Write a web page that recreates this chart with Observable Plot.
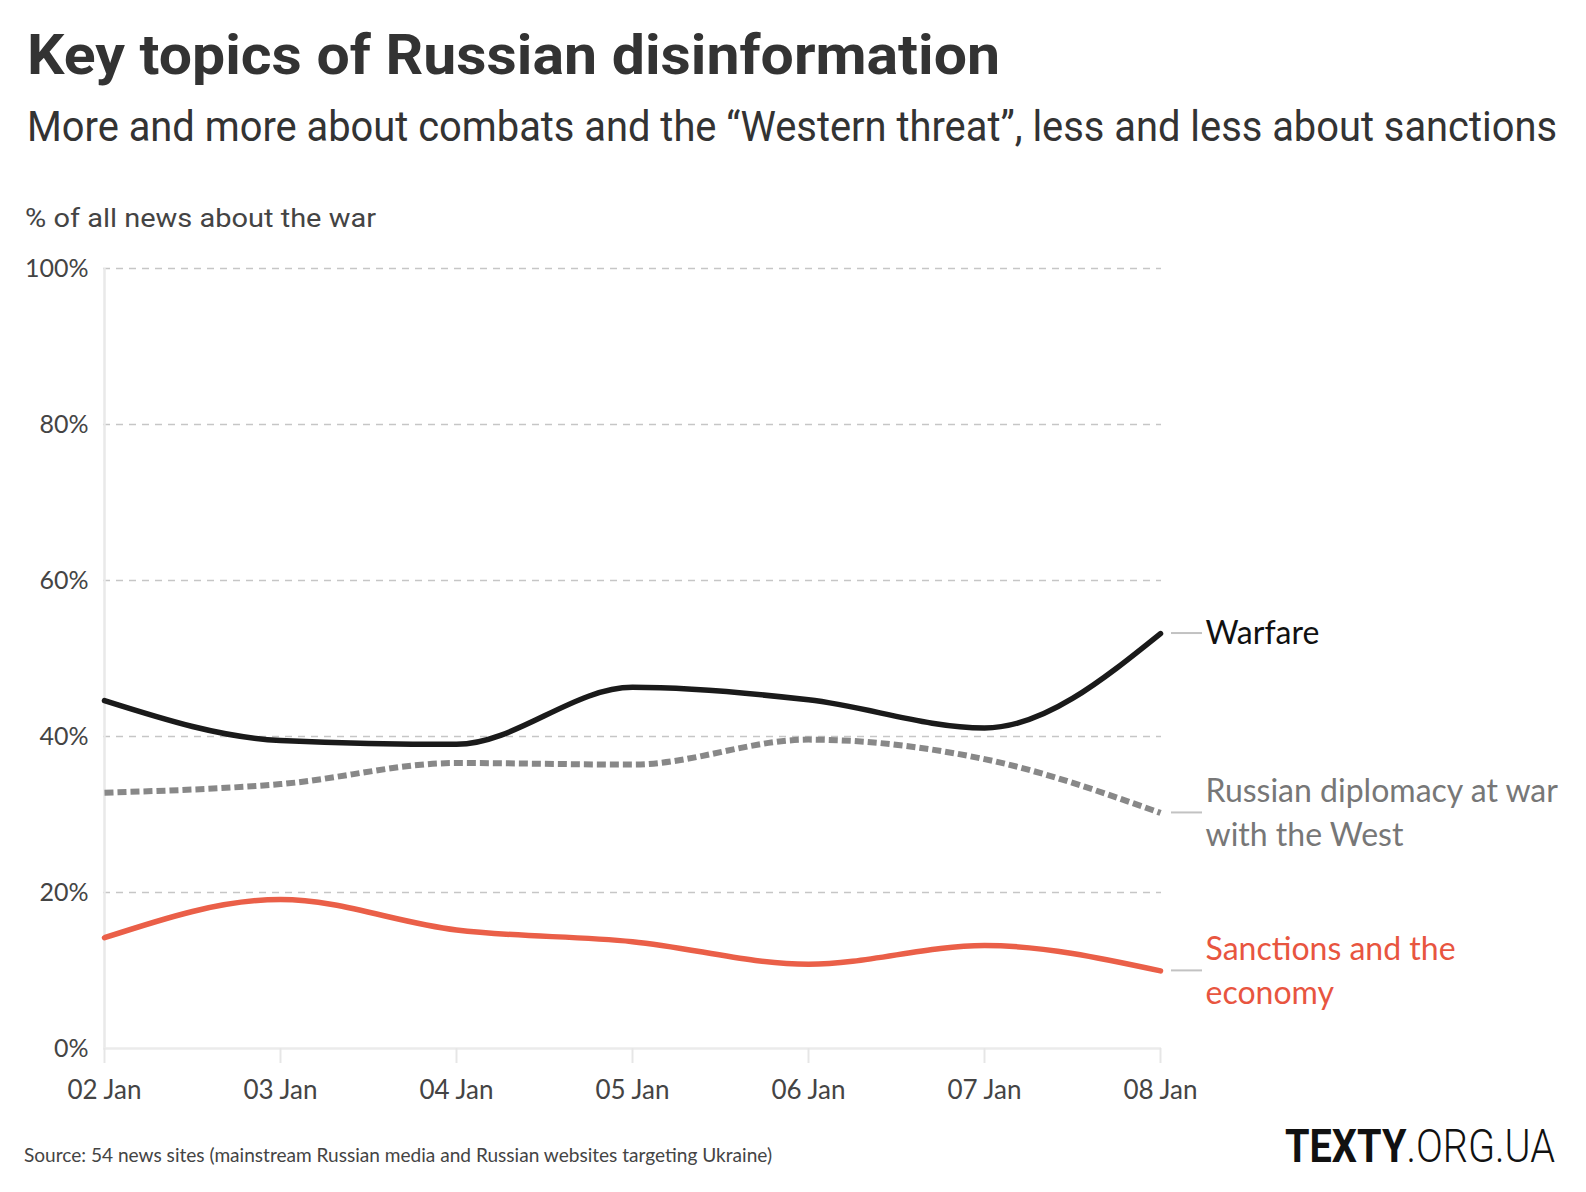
<!DOCTYPE html>
<html>
<head>
<meta charset="utf-8">
<script src="https://cdn.jsdelivr.net/npm/d3@7"></script>
<script src="https://cdn.jsdelivr.net/npm/@observablehq/plot@0.6"></script>
<style>
  html, body { margin: 0; padding: 0; background: #fff; }
  #root { position: relative; width: 1586px; height: 1192px; overflow: hidden; background: #fff; }
  .abs { position: absolute; white-space: nowrap; line-height: 1; transform-origin: 0 0; z-index: 2; }
  #title { font-family: Roboto, sans-serif; font-weight: 700; font-size: 56px; color: #333; }
  #subtitle { font-family: Roboto, sans-serif; font-weight: 400; font-size: 42px; color: #333; }
  #ylabel { font-family: Roboto, sans-serif; font-weight: 400; font-size: 26px; color: #444; }
  #source { font-family: Lato, sans-serif; font-size: 20px; color: #444; }
  #logo { font-family: Roboto, sans-serif; font-size: 46px; color: #111; }
  #logo b { font-weight: 700; }
  #logo span.l { font-weight: 300; }
  #chart { position: absolute; left: 0; top: 180px; z-index: 1; }
</style>
</head>
<body>
<div id="root">
  <div id="title" class="abs">Key topics of Russian disinformation</div>
  <div id="subtitle" class="abs">More and more about combats and the “Western threat”, less and less about sanctions</div>
  <div id="ylabel" class="abs">% of all news about the war</div>
  <div id="chart"></div>
  <div id="source" class="abs">Source: 54 news sites (mainstream Russian media and Russian websites targeting Ukraine)</div>
  <div id="logo" class="abs"><b>TEXTY</b><span class="l">.ORG.UA</span></div>
</div>
<script>
// ---- data ----
const categories = ["02 Jan", "03 Jan", "04 Jan", "05 Jan", "06 Jan", "07 Jan", "08 Jan"];
const warfare   = [44.6, 39.5, 39.0, 46.3, 44.7, 41.1, 53.2];
const diplomacy = [32.8, 33.9, 36.6, 36.4, 39.6, 37.1, 30.2];
const sanctions = [14.2, 19.1, 15.2, 13.7, 10.8, 13.2, 9.95];
const seriesNames = ["Warfare", "Russian diplomacy at war\nwith the West", "Sanctions and the\neconomy"];
const seriesColors = ["#1a1a1a", "#888888", "#ea5f48"];
const labelColors = ["#111111", "#777777", "#e8553f"];
const yTicks = [0, 20, 40, 60, 80, 100];

const seriesValues = [warfare, diplomacy, sanctions];
const rows = seriesValues.map((vals, s) =>
  categories.map((c, i) => ({date: c, value: vals[i], series: seriesNames[s]}))
);
const ends = seriesValues.map((vals, s) => ({
  date: categories[categories.length - 1],
  value: vals[vals.length - 1],
  label: seriesNames[s],
  color: labelColors[s]
}));

function connectors(index, scales) {
  const g = d3.create("svg:g");
  for (const e of ends) {
    const x = scales.x(e.date), y = scales.y(e.value);
    g.append("line")
      .attr("x1", x + 11).attr("x2", x + 42)
      .attr("y1", y).attr("y2", y)
      .attr("stroke", "#c2c2c2").attr("stroke-width", 2);
  }
  return g.node();
}

const chart = Plot.plot({
  width: 1586,
  height: 948,
  marginLeft: 103,
  marginRight: 425,
  marginTop: 88,
  marginBottom: 80,
  style: {fontFamily: "Lato, sans-serif", background: "transparent", overflow: "visible"},
  x: {type: "point", domain: categories, padding: 0, label: null},
  y: {domain: [0, 100], label: null},
  marks: [
    Plot.gridY(yTicks.filter(d => d > 0), {stroke: "#c6c6c6", strokeOpacity: 1, strokeWidth: 1.5, strokeDasharray: "7,6"}),
    Plot.ruleX([categories[0]], {stroke: "#e9e9e9", strokeWidth: 2.5}),
    Plot.ruleY([0], {stroke: "#ebebeb", strokeWidth: 2.5}),
    Plot.axisY(yTicks, {label: null, tickSize: 0, tickPadding: 15, fontSize: 25, color: "#444", tickFormat: d => d + "%"}),
    Plot.axisX(categories, {label: null, tickSize: 15, tickPadding: 17, fontSize: 26, stroke: "#e6e6e6", strokeWidth: 2, fill: "#444", color: "#444"}),
    Plot.line(rows[2], {x: "date", y: "value", stroke: seriesColors[2], strokeWidth: 5.5, curve: "monotone-x"}),
    Plot.line(rows[1], {x: "date", y: "value", stroke: seriesColors[1], strokeWidth: 6, strokeDasharray: "9,4", strokeLinecap: "butt", curve: "monotone-x"}),
    Plot.line(rows[0], {x: "date", y: "value", stroke: seriesColors[0], strokeWidth: 5.5, curve: "monotone-x"}),
    connectors,
    Plot.text(ends, {x: "date", y: "value", text: "label", fill: "color", dx: 45, dy: -3, textAnchor: "start", lineAnchor: "middle", lineHeight: 1.36, fontSize: 32})
  ]
});
document.getElementById("chart").appendChild(chart);

// ---- layout of html texts ----
function place(id, left, baseline, width) {
  const el = document.getElementById(id);
  el.style.transform = "none";
  el.style.left = left + "px";
  el.style.top = "0px";
  const probe = document.createElement("span");
  probe.style.display = "inline-block";
  probe.style.width = "0px";
  probe.style.height = "0px";
  probe.style.verticalAlign = "baseline";
  el.appendChild(probe);
  const root = document.getElementById("root").getBoundingClientRect();
  const b = probe.getBoundingClientRect().top - root.top;
  el.removeChild(probe);
  const w = el.getBoundingClientRect().width;
  el.style.top = (baseline - b) + "px";
  if (width) el.style.transform = "scaleX(" + (width / w) + ")";
}
function layout() {
  place("title", 27, 73.5, 973);
  place("subtitle", 27, 141, 1530);
  place("ylabel", 25, 226.5, 351);
  place("source", 24, 1161.5, 748);
  place("logo", 1285, 1162.3, 270);
}
layout();
if (document.fonts && document.fonts.ready) document.fonts.ready.then(layout);
</script>
</body>
</html>
